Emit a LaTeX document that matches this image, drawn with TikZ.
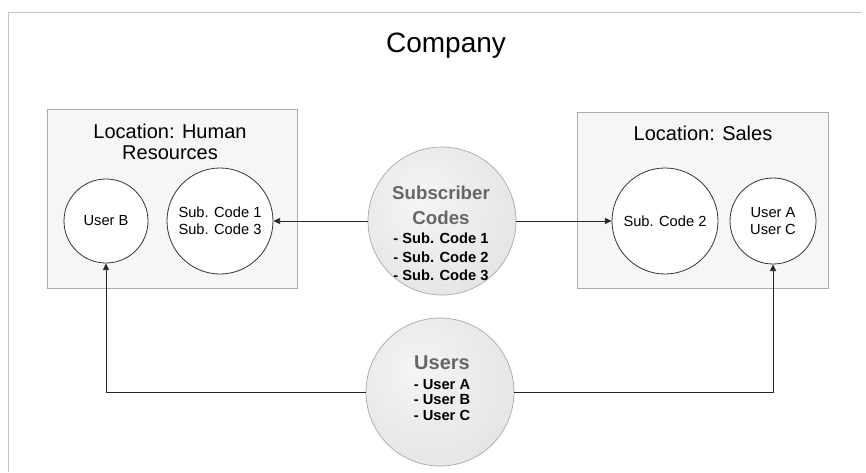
\documentclass[tikz,border=0pt]{standalone}
\usepackage{fontspec}
\setmainfont{Liberation Sans}
\usetikzlibrary{arrows.meta}
\pgfdeclareradialshading{discshade}{\pgfpoint{-8bp}{8bp}}{color(0bp)=(gray!8); color(30bp)=(gray!20); color(50bp)=(gray!38); color(60bp)=(gray!50)}
\tikzset{
  pageframe/.style={draw=gray!45, line width=0.6pt},
  locbox/.style={rectangle, draw=gray!65, fill=gray!7, line width=0.6pt, inner sep=0pt},
  loctitle/.style={align=center, inner sep=0pt, font=\fontsize{15}{15.75}\selectfont},
  member/.style={circle, draw=black!80, fill=white, line width=0.6pt, inner sep=0pt, align=center, font=\fontsize{11}{13}\selectfont},
  pool/.style={circle, draw=gray!70, shading=discshade, line width=0.5pt, inner sep=0pt, minimum size=111pt},
  pooltitle/.style={align=center, inner sep=0pt, text=black!60, font=\fontsize{14}{18.75}\selectfont\bfseries},
  poolitems/.style={align=left, inner sep=0pt, text=black, font=\fontsize{11}{13.9}\selectfont\bfseries},
  arr/.style={-{Triangle[length=5pt,width=4.5pt]}, line width=0.6pt, draw=black!85}
}
\begin{document}
\begin{tikzpicture}[x=0.75pt,y=-0.75pt]
\useasboundingbox (0,0) rectangle (866,472);
% page frame (top and left edges)
\coordinate (fbl) at (8,472);
\coordinate (ftl) at (8,12);
\coordinate (ftr) at (862,12);
\draw[pageframe] (fbl) -- (ftl) -- (ftr);

\node[inner sep=0pt, font=\fontsize{21}{24}\selectfont] (company) at (446,46) {Company};

% location boxes
\node[locbox, minimum width=187.5pt, minimum height=134.25pt] (hr) at (172,198.5) {};
\node[locbox, minimum width=188.25pt, minimum height=132pt] (sales) at (702.5,200) {};
\node[loctitle] (hrtitle) at (170,142) {Location: Human\\Resources};
\node[loctitle] (salestitle) at (703,133) {Location: Sales};

% member circles
\node[member, minimum size=63pt] (userB) at (106,221) {User B};
\node[member, minimum size=79.5pt] (sc13) at (220,221) {Sub. Code 1\\Sub. Code 3};
\node[member, minimum size=79.5pt] (sc2) at (665,221) {Sub. Code 2};
\node[member, minimum size=64.5pt] (userAC) at (773,221) {User A\\User C};

% pools
\node[pool] (sub) at (442,221) {};
\node[pooltitle] (subtitle) at (441,205) {Subscriber\\Codes};
\node[poolitems] (subitems) at (441,257) {- Sub. Code 1\\- Sub. Code 2\\- Sub. Code 3};

\node[pool] (users) at (440,392) {};
\node[pooltitle, font=\fontsize{15}{18}\selectfont\bfseries] (userstitle) at (442,363) {Users};
\node[poolitems, font=\fontsize{11}{11.6}\selectfont\bfseries] (usersitems) at (442,400) {- User A\\- User B\\- User C};

% connectors
\draw[arr] (sub.west) -- (sc13.east);
\draw[arr] (sub.east) -- (sc2.west);
\draw[arr] (users.west) -| (userB.south);
\draw[arr] (users.east) -| (userAC.south);
\end{tikzpicture}
\end{document}
